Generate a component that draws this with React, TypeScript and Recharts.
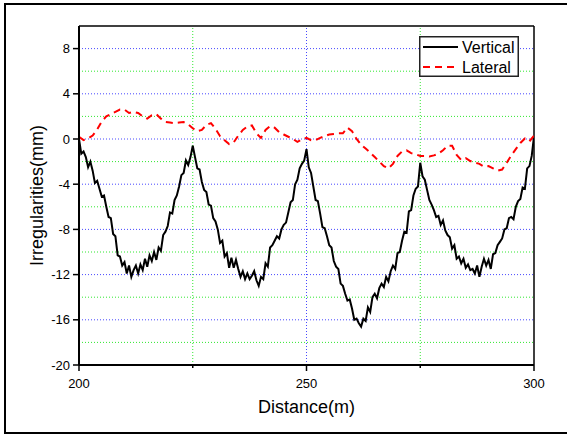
import { LineChart, Line, XAxis, YAxis, ReferenceLine, Legend } from 'recharts'

// distance sampling of the two records
const verticalStart = 200
const verticalStep = 0.5
const lateralStart = 200
const lateralStep = 1

// vertical irregularity, mm (every 0.5 m from 200 m)
const verticalValues = [
  0, -1.3, -1.1, -1.6, -2.5, -2.0, -2.8, -3.9, -3.7, -4.4,
  -5.1, -5.0, -6.0, -6.9, -7.0, -8.4, -8.6, -10.3, -10.4, -11.2,
  -10.9, -11.9, -11.2, -12.2, -11.6, -11.2, -11.9, -11.1, -11.6, -10.6,
  -11.3, -10.3, -10.8, -10.0, -10.7, -9.6, -9.9, -8.5, -8.2, -7.7,
  -6.5, -6.6, -5.4, -5.0, -4.2, -3.2, -3.0, -1.9, -2.3, -1.6,
  -0.6, -1.6, -2.6, -2.7, -3.8, -4.5, -4.7, -5.8, -5.9, -7.0,
  -7.3, -8.0, -9.2, -9.0, -10.4, -10.1, -11.4, -10.5, -11.4, -10.7,
  -11.5, -12.2, -11.7, -12.4, -11.9, -12.4, -12.1, -11.7, -12.5, -13.0,
  -12.2, -12.4, -11.0, -11.3, -9.6, -9.4, -9.0, -8.6, -8.8, -8.0,
  -7.6, -7.4, -6.5, -5.6, -5.4, -4.0, -3.6, -2.6, -2.2, -1.9,
  -0.9, -2.5, -3.0, -4.2, -5.4, -5.5, -6.6, -7.8, -7.9, -8.6,
  -9.4, -9.6, -10.8, -11.3, -11.5, -12.8, -13.0, -13.7, -14.3, -14.2,
  -15.0, -16.0, -15.9, -16.3, -16.6, -15.9, -16.1, -14.9, -15.3, -14.0,
  -13.7, -14.1, -13.2, -12.8, -13.1, -12.2, -12.6, -11.7, -11.2, -11.5,
  -10.1, -10.0, -9.0, -8.2, -8.3, -6.4, -6.3, -5.0, -4.4, -4.2,
  -2.1, -3.3, -3.6, -4.5, -5.4, -5.8, -6.3, -6.9, -6.8, -7.6,
  -7.2, -8.1, -8.5, -8.7, -9.7, -9.4, -10.6, -10.4, -11.0, -10.6,
  -11.4, -11.1, -11.6, -11.5, -11.9, -11.2, -12.2, -11.3, -10.6, -11.2,
  -10.7, -11.5, -10.2, -10.1, -9.4, -9.1, -8.8, -8.0, -7.9, -7.0,
  -6.9, -7.1, -6.0, -5.5, -5.3, -4.3, -4.4, -2.6, -2.4, -1.5,
  0.2,
]

// lateral irregularity, mm (every 1 m from 200 m)
const lateralValues = [
  0.2, -0.1, 0.05, 0.3, 0.85, 1.55, 2.0, 2.2, 2.4, 2.6,
  2.6, 2.3, 2.4, 2.3, 2.0, 1.8, 2.1, 2.2, 1.8, 1.5,
  1.45, 1.4, 1.45, 1.5, 1.3, 0.95, 0.7, 0.8, 1.25, 1.4,
  0.9, 0.25, -0.1, -0.45, -0.3, 0.3, 0.8, 1.1, 1.2, 0.5,
  0.1, 0.8, 1.15, 1.0, 0.6, 0.4, 0.2, 0.0, -0.25, -0.05,
  0.1, -0.1, -0.1, 0.1, 0.25, 0.4, 0.45, 0.5, 0.5, 1.0,
  0.7, 0.0, -0.5, -0.85, -1.2, -1.6, -2.0, -2.4, -2.6, -2.2,
  -1.5, -1.1, -1.0, -1.25, -1.35, -1.5, -1.5, -1.55, -1.45, -1.3,
  -1.0, -0.6, -0.6, -1.4, -1.85, -1.7, -1.95, -2.1, -2.2, -2.45,
  -2.4, -2.6, -2.8, -2.7, -2.1, -1.45, -0.9, -0.35, 0.05, -0.2,
  0.3,
]

const xTicks = [200, 225, 250, 275, 300]
const xLabelTicks = [200, 250, 300]
const yTicks = [-20, -18, -16, -14, -12, -10, -8, -6, -4, -2, 0, 2, 4, 6, 8]
const yLabelTicks = [-20, -16, -12, -8, -4, 0, 4, 8]
const gridYBlue = [-16, -12, -8, -4, 0, 4, 8]
const gridYGreen = [-18, -14, -10, -6, -2, 2, 6]
const gridXBlue = [250]
const gridXGreen = [225, 275]

const verticalData = verticalValues.map((v, i) => ({ d: verticalStart + i * verticalStep, v }))
const lateralData = lateralValues.map((v, i) => ({ d: lateralStart + i * lateralStep, v }))

const FONT = 'Arial, "Liberation Sans", sans-serif'
const BLUE = '#4848ff'
const GREEN = '#30e830'

function XTick(props: any) {
  const { x, y, payload } = props
  const major = xLabelTicks.includes(payload.value)
  return (
    <g>
      <line x1={x} x2={x} y1={y} y2={y + (major ? 6 : 3)} stroke="#000" strokeWidth={1.5} />
      {major && (
        <text x={x} y={y + 18} textAnchor="middle" dominantBaseline="central" fontSize={13} fontFamily={FONT} fill="#000">
          {payload.value}
        </text>
      )}
    </g>
  )
}

function YTick(props: any) {
  const { x, y, payload } = props
  const major = yLabelTicks.includes(payload.value)
  return (
    <g>
      <line x1={x - (major ? 6 : 3)} x2={x} y1={y} y2={y} stroke="#000" strokeWidth={1.5} />
      {major && (
        <text x={x - 9} y={y} textAnchor="end" dominantBaseline="central" fontSize={13} fontFamily={FONT} fill="#000">
          {payload.value}
        </text>
      )}
    </g>
  )
}

function LegendBox() {
  return (
    <svg width={100} height={41} style={{ display: 'block' }}>
      <rect x={0.75} y={0.75} width={98.5} height={39.5} fill="#fff" stroke="#222" strokeWidth={1.5} />
      <line x1={4} x2={39} y1={11} y2={11} stroke="#000" strokeWidth={2} />
      <text x={43} y={11} dominantBaseline="central" fontSize={16} fontFamily={FONT} fill="#000">Vertical</text>
      <line x1={4} x2={39} y1={31} y2={31} stroke="#ff0000" strokeWidth={2} strokeDasharray="7 5" />
      <text x={43} y={31} dominantBaseline="central" fontSize={16} fontFamily={FONT} fill="#000">Lateral</text>
    </svg>
  )
}

export default function App() {
  return (
    <div style={{ position: 'relative', width: 567, height: 435, overflow: 'hidden', background: '#fff' }}>
      <style>{'body { margin: 0; }'}</style>
      <div style={{ position: 'absolute', left: 0, top: 0 }}>
        <LineChart width={567} height={435} margin={{ top: 26, right: 33, left: 29, bottom: 40 }}>
          <XAxis
            dataKey="d"
            type="number"
            domain={[200, 300]}
            ticks={xTicks}
            allowDataOverflow
            height={30}
            tickSize={0}
            tickMargin={0}
            tickLine={false}
            tick={<XTick />}
            axisLine={{ stroke: '#000', strokeWidth: 2 }}
            label={{ value: 'Distance(m)', position: 'insideBottom', offset: -18, fontSize: 18, fontFamily: FONT, fill: '#000' }}
          />
          <YAxis
            type="number"
            domain={[-20, 10]}
            ticks={yTicks}
            allowDataOverflow
            width={50}
            tickSize={0}
            tickMargin={0}
            tickLine={false}
            tick={<YTick />}
            axisLine={{ stroke: '#000', strokeWidth: 2 }}
            label={{ value: 'Irregularities(mm)', angle: -90, position: 'insideLeft', offset: 8, fontSize: 18, fontFamily: FONT, fill: '#000', style: { textAnchor: 'middle' } }}
          />
          {gridYGreen.map((v) => (
            <ReferenceLine key={'gg' + v} y={v} stroke={GREEN} strokeDasharray="1 2" strokeWidth={1} />
          ))}
          {gridYBlue.map((v) => (
            <ReferenceLine key={'gb' + v} y={v} stroke={BLUE} strokeDasharray="1 2" strokeWidth={1} />
          ))}
          {gridXGreen.map((v) => (
            <ReferenceLine key={'xg' + v} x={v} stroke={GREEN} strokeDasharray="1 2" strokeWidth={1} />
          ))}
          {gridXBlue.map((v) => (
            <ReferenceLine key={'xb' + v} x={v} stroke={BLUE} strokeDasharray="1 2" strokeWidth={1} />
          ))}
          <ReferenceLine y={10} stroke="#000" strokeWidth={1.5} />
          <ReferenceLine x={300} stroke="#000" strokeWidth={1.5} />
          <Line
            data={verticalData}
            dataKey="v"
            name="Vertical"
            type="linear"
            stroke="#000"
            strokeWidth={2}
            dot={false}
            isAnimationActive={false}
          />
          <Line
            data={lateralData}
            dataKey="v"
            name="Lateral"
            type="linear"
            stroke="#ff0000"
            strokeWidth={2}
            strokeDasharray="7 5"
            dot={false}
            isAnimationActive={false}
          />
          <Legend
            layout="vertical"
            align="center"
            verticalAlign="middle"
            content={() => <LegendBox />}
            wrapperStyle={{ left: 419, top: 36, width: 100, height: 41 }}
          />
        </LineChart>
      </div>
      <svg
        width={567}
        height={435}
        style={{ position: 'absolute', left: 0, top: 0, pointerEvents: 'none', zIndex: 2 }}
      >
        <path d="M 580 4 H 5 V 433 H 580" fill="none" stroke="#000" strokeWidth={2} />
      </svg>
    </div>
  )
}
